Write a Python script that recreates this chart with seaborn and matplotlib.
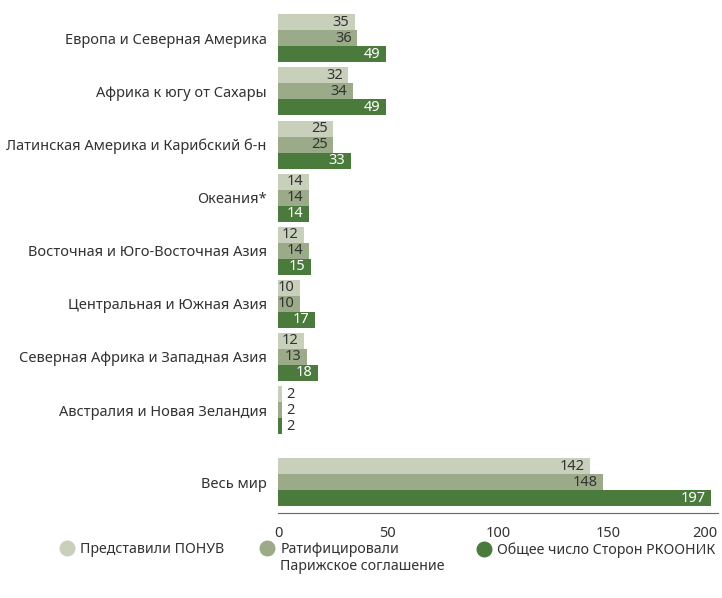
import pandas as pd
import matplotlib
matplotlib.use("Agg")
import matplotlib.pyplot as plt
from matplotlib.lines import Line2D
import seaborn as sns

#data
regions = [
    "Европа и Северная Америка",
    "Африка к югу от Сахары",
    "Латинская Америка и Карибский б-н",
    "Океания*",
    "Восточная и Юго-Восточная Азия",
    "Центральная и Южная Азия",
    "Северная Африка и Западная Азия",
    "Австралия и Новая Зеландия",
    "Весь мир",
]
ndc_submitted = [35, 32, 25, 14, 12, 10, 12, 2, 142]
paris_ratified = [36, 34, 25, 14, 14, 10, 13, 2, 148]
unfccc_parties = [49, 49, 33, 14, 15, 17, 18, 2, 197]
series_names = [
    "Представили ПОНУВ",
    "Ратифицировали",
    "Общее число Сторон РКООНИК",
]
second_line = "Парижское соглашение"
xticks = [0, 50, 100, 150, 200]

colors = ["#c8d0bc", "#9bab89", "#4a7a3c"]
text_colors = ["#333333", "#333333", "white"]

sns.set_style("white")
plt.rcParams['font.family'] = ['Noto Sans', 'DejaVu Sans']

#positions: extra gap before the world group
positions = [0, 1, 2, 3, 4, 5, 6, 7, 8.36]

rows = []
for i, reg in enumerate(regions):
    for name, vals in zip(series_names, [ndc_submitted, paris_ratified, unfccc_parties]):
        rows.append({"pos": positions[i], "region": reg, "series": name, "value": vals[i]})
df = pd.DataFrame(rows)

fig = plt.figure(figsize=(7.22, 5.98), dpi=100)
ax = fig.add_axes([0.385, 0.142, 0.609, 0.841])

sns.barplot(data=df, x="value", y="pos", hue="series", hue_order=series_names,
            orient="h", native_scale=True, palette=colors, width=0.904,
            saturation=1, linewidth=0, ax=ax, legend=False)

ax.set_ylim(8.94, -0.53)
ax.set_xlim(0, 200)
ax.set_xticks(xticks)
ax.set_yticks(positions, regions)
ax.set_xlabel("")
ax.set_ylabel("")

for s in ["top", "right", "left"]:
    ax.spines[s].set_visible(False)
ax.spines["bottom"].set_color("#666666")
ax.tick_params(axis="y", length=0, pad=8, labelsize=10.5, labelcolor="#333333")
ax.tick_params(axis="x", length=6, color="#666666", labelsize=10.5,
               labelcolor="#333333", direction="out")
ax.get_xticklabels()[-1].set_ha("right")

#value labels
for k, cont in enumerate(ax.containers):
    for patch in cont:
        w = patch.get_width()
        yc = patch.get_y() + patch.get_height() / 2
        if w >= 10:
            ax.annotate(f"{w:.0f}", (w, yc), xytext=(-4, 0), textcoords="offset points",
                        ha="right", va="center", fontsize=10.5, color=text_colors[k])
        else:
            ax.annotate(f"{w:.0f}", (w, yc), xytext=(3, 0), textcoords="offset points",
                        ha="left", va="center", fontsize=10.5, color="#333333")

#legend, one entry per position
legend_x = [0.085, 0.362, 0.662]
for name, c, lx in zip(series_names, colors, legend_x):
    h = Line2D([], [], marker="o", linestyle="", markersize=10.5, color=c)
    leg = fig.legend([h], [name], loc="upper left", bbox_to_anchor=(lx, 0.093),
                     frameon=False, fontsize=10.2, handlelength=0.8,
                     handletextpad=0.55, borderpad=0, borderaxespad=0,
                     labelcolor="#333333")
    if name == series_names[1]:
        mid_leg = leg

fig.canvas.draw()
t = mid_leg.get_texts()[0]
bb = t.get_window_extent().transformed(fig.transFigure.inverted())
fig.text(bb.x0, bb.y0 - 0.003, second_line, ha="left", va="top",
         fontsize=10.2, color="#333333")

fig.savefig("out.png", dpi=100)
